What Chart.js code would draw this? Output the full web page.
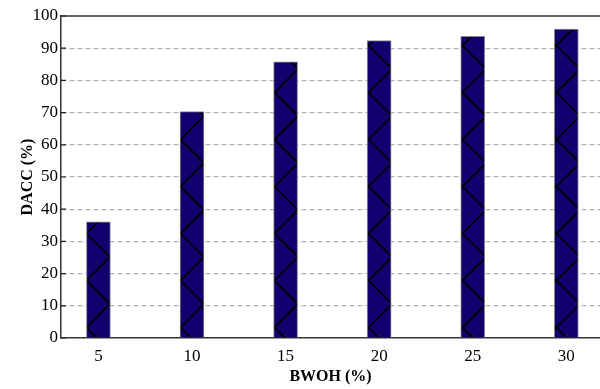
<!DOCTYPE html>
<html>
<head>
<meta charset="utf-8">
<script src="https://cdn.jsdelivr.net/npm/chart.js@4/dist/chart.umd.min.js"></script>
<style>
  html, body { margin: 0; padding: 0; background: #fff; overflow: hidden; }
  #wrap { width: 600px; height: 389px; position: relative; }
</style>
</head>
<body>
<div id="wrap"><canvas id="c" width="600" height="389"></canvas></div>
<script>
// BWOH levels (%) and the detection accuracy reached at each
const bwoh = [5, 10, 15, 20, 25, 30];
const dacc = [36.1, 70.3, 85.8, 92.4, 93.7, 95.9];
const yTicks = [0, 10, 20, 30, 40, 50, 60, 70, 80, 90, 100];

const FONT = '"Liberation Serif", "Times New Roman", serif';
const BAR_FILL = '#13006f';

// Cross-hatch fill: two families of 45-degree diagonals with a 47px period,
// phased so that the crossings fall on the bar edges
function makeHatch() {
  const size = 47;
  const tile = document.createElement('canvas');
  tile.width = size; tile.height = size;
  const g = tile.getContext('2d');
  g.fillStyle = BAR_FILL;
  g.fillRect(0, 0, size, size);
  g.strokeStyle = '#000';
  g.lineWidth = 1.6;
  g.beginPath();
  for (let k = -3; k <= 3; k++) {
    const a = 6 + k * size;   // y = x + a
    g.moveTo(-size, -size + a); g.lineTo(2 * size, 2 * size + a);
    const b = 38 + k * size;  // y = -x + b
    g.moveTo(-size, size + b); g.lineTo(2 * size, -2 * size + b);
  }
  g.stroke();
  return document.getElementById('c').getContext('2d').createPattern(tile, 'repeat');
}

// Frame pieces: top spine and inward tick marks
const framePlugin = {
  id: 'frame',
  afterDraw(chart) {
    const { ctx, chartArea: a, scales } = chart;
    ctx.save();
    ctx.strokeStyle = '#333';
    ctx.lineWidth = 1.5;
    ctx.beginPath();
    ctx.moveTo(a.left - 0.75, a.top);
    ctx.lineTo(a.right, a.top);
    ctx.stroke();
    ctx.lineWidth = 1.2;
    ctx.strokeStyle = '#222';
    ctx.beginPath();
    for (const v of yTicks) {
      const y = scales.y.getPixelForValue(v);
      ctx.moveTo(a.left, y);
      ctx.lineTo(a.left + 5, y);
    }
    for (const v of bwoh) {
      const x = scales.x.getPixelForValue(v);
      ctx.moveTo(x, a.bottom);
      ctx.lineTo(x, a.bottom - 4);
    }
    ctx.stroke();
    ctx.restore();
  }
};

const hatch = makeHatch();

new Chart(document.getElementById('c'), {
  type: 'bar',
  data: {
    datasets: [{
      data: bwoh.map((x, i) => ({ x: x, y: dacc[i] })),
      backgroundColor: hatch,
      borderColor: '#8a8a8a',
      borderWidth: 1,
      borderSkipped: 'bottom',
      barThickness: 24
    }]
  },
  options: {
    responsive: false,
    animation: false,
    events: [],
    layout: { padding: { top: 16, right: 0, left: 0, bottom: 0 } },
    plugins: { legend: { display: false }, tooltip: { enabled: false } },
    scales: {
      x: {
        type: 'linear',
        offset: false,
        min: 3,
        max: 31.8,
        afterBuildTicks: s => { s.ticks = bwoh.map(v => ({ value: v })); },
        afterFit: s => { s.height = 51; },
        grid: { display: false, drawTicks: false, offset: false },
        border: { display: true, color: '#333', width: 1.5 },
        ticks: {
          color: '#000',
          font: { family: FONT, size: 17 },
          padding: 8
        },
        title: {
          display: true,
          text: 'BWOH (%)',
          color: '#000',
          font: { family: FONT, size: 16, weight: 'bold' },
          padding: { top: 0, bottom: 3 }
        }
      },
      y: {
        min: 0,
        max: 100,
        afterBuildTicks: s => { s.ticks = yTicks.map(v => ({ value: v })); },
        afterFit: s => { s.width = 61; },
        grid: {
          drawTicks: false,
          color: c => (c.tick && (c.tick.value === 0 || c.tick.value === 100)) ? 'rgba(0,0,0,0)' : '#b4b4b4',
          lineWidth: 1.2
        },
        border: { display: true, color: '#333', width: 1.5, dash: [5, 3] },
        ticks: {
          color: '#000',
          font: { family: FONT, size: 17 },
          padding: 3
        },
        title: {
          display: true,
          text: 'DACC (%)',
          color: '#000',
          font: { family: FONT, size: 16, weight: 'bold' },
          padding: { top: 18, bottom: 0 }
        }
      }
    }
  },
  plugins: [framePlugin]
});
</script>
</body>
</html>
